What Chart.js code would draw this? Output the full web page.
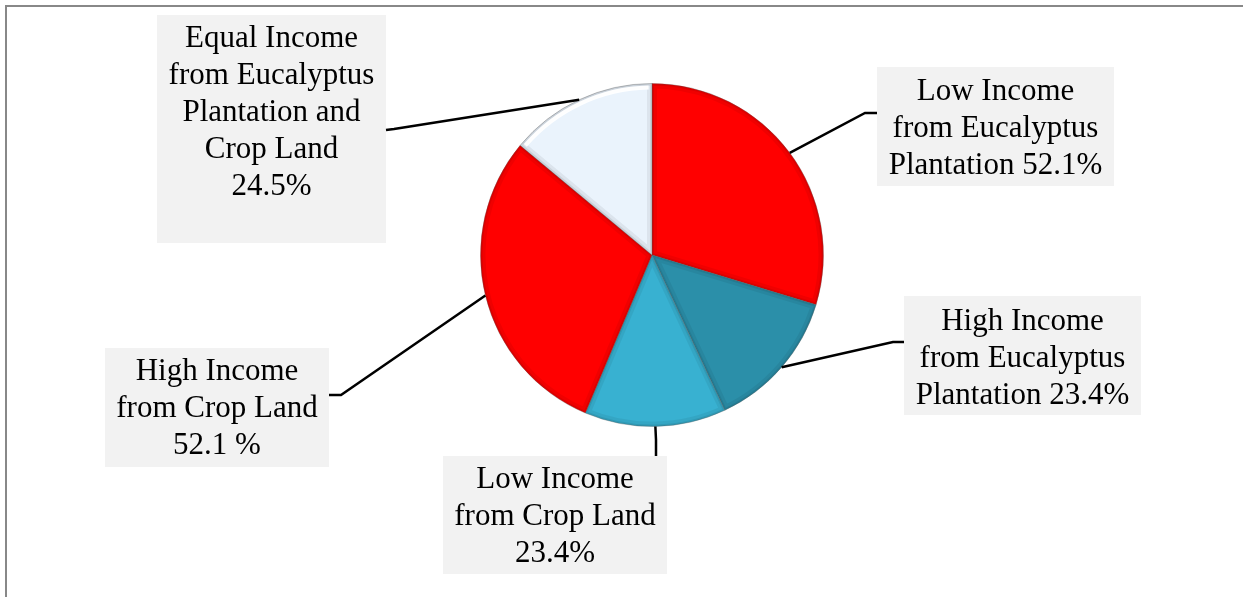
<!DOCTYPE html>
<html>
<head>
<meta charset="utf-8">
<script src="https://cdn.jsdelivr.net/npm/chart.js@4"></script>
<style>
  html, body { margin: 0; padding: 0; background: #fff; overflow: hidden; }
  #wrap { position: relative; width: 1243px; height: 597px; }
  #frame { position: absolute; left: 5px; top: 5px; width: 1400px; height: 700px;
           border-left: 2px solid #888; border-top: 2px solid #888; }
  canvas { position: absolute; left: 0; top: 0; }
</style>
</head>
<body>
<div id="wrap">
  <div id="frame"></div>
  <canvas id="out" width="1243" height="597"></canvas>
</div>
<script>
// income comparison categories, clockwise from 12 o'clock
const categories = [
    "Low Income from Eucalyptus Plantation",
    "High Income from Eucalyptus Plantation",
    "Low Income from Crop Land",
    "High Income from Crop Land",
    "Equal Income from Eucalyptus Plantation and Crop Land"
];
const shares = [52.1, 23.4, 23.4, 52.1, 24.5];
const labelLines = [
    ["Low Income", "from Eucalyptus", "Plantation 52.1%"],
    ["High Income", "from Eucalyptus", "Plantation 23.4%"],
    ["Low Income", "from Crop Land", "23.4%"],
    ["High Income", "from Crop Land", "52.1 %"],
    ["Equal Income", "from Eucalyptus", "Plantation and", "Crop Land", "24.5%"]
];
const sliceColors = ["#ff0000", "#2b8fa9", "#38b1d1", "#ff0000", "#eaf3fc"];

// where each callout box sits and where its leader line bends
const boxes = [
    { x: 877, y: 67, w: 237, h: 119, top: 92, elbow: [865, 113], end: [877, 113] },
    { x: 904, y: 296, w: 237, h: 119, top: 322, elbow: [893, 342], end: [904, 342] },
    { x: 443, y: 456, w: 224, h: 118, top: 480, elbow: [656, 440], end: [656, 456] },
    { x: 105, y: 348, w: 224, h: 119, top: 372, elbow: [341, 395], end: [329, 395] },
    { x: 157, y: 15, w: 229, h: 228, top: 39, elbow: [394, 129], end: [386, 130] }
];

const bevel = {
    id: "bevel",
    afterDatasetDraw(chart) {
        const ctx = chart.ctx;
        const arcs = chart.getDatasetMeta(0).data;
        arcs.forEach((arc, i) => {
            const p = arc.getProps(["x", "y", "startAngle", "endAngle", "outerRadius"], true);
            ctx.save();
            ctx.beginPath();
            ctx.moveTo(p.x, p.y);
            ctx.arc(p.x, p.y, p.outerRadius, p.startAngle, p.endAngle);
            ctx.closePath();
            ctx.clip();
            // soft darker rim on the inside edge
            ctx.lineWidth = 10;
            ctx.strokeStyle = "rgba(0,0,0,0.06)";
            ctx.stroke();
            ctx.lineWidth = 4;
            ctx.strokeStyle = "rgba(0,0,0,0.08)";
            ctx.stroke();
            // white highlight only on the pale slice
            if (i === 4) {
                ctx.beginPath();
                ctx.arc(p.x, p.y, p.outerRadius - 4, p.startAngle + 0.02, p.endAngle - 0.02);
                ctx.lineWidth = 4;
                ctx.strokeStyle = "rgba(255,255,255,0.95)";
                ctx.stroke();
            }
            ctx.restore();
        });
    }
};

const callouts = {
    id: "callouts",
    afterDraw(chart) {
        const ctx = chart.ctx;
        const arcs = chart.getDatasetMeta(0).data;
        ctx.save();
        arcs.forEach((arc, i) => {
            const p = arc.getProps(["x", "y", "startAngle", "endAngle", "outerRadius"], true);
            const mid = (p.startAngle + p.endAngle) / 2;
            const sx = p.x + Math.cos(mid) * p.outerRadius;
            const sy = p.y + Math.sin(mid) * p.outerRadius;
            const b = boxes[i];
            ctx.fillStyle = "#f2f2f2";
            ctx.fillRect(b.x, b.y, b.w, b.h);
            ctx.beginPath();
            ctx.moveTo(sx, sy);
            ctx.lineTo(b.elbow[0], b.elbow[1]);
            ctx.lineTo(b.end[0], b.end[1]);
            ctx.lineWidth = 2.5;
            ctx.strokeStyle = "#000";
            ctx.stroke();
            ctx.fillStyle = "#000";
            ctx.font = "31px 'Liberation Serif', 'Times New Roman', serif";
            ctx.textAlign = "center";
            ctx.textBaseline = "middle";
            labelLines[i].forEach((line, k) => {
                ctx.fillText(line, b.x + b.w / 2, b.top + k * 37);
            });
        });
        ctx.restore();
    }
};

const canvasCtx = document.getElementById("out").getContext("2d");
new Chart(canvasCtx, {
    type: "pie",
    data: {
        labels: categories,
        datasets: [{
            data: shares,
            backgroundColor: sliceColors,
            borderColor: "rgba(90,90,90,0.35)",
            borderWidth: 1
        }]
    },
    options: {
        responsive: false,
        animation: false,
        layout: { padding: { top: 83, bottom: 170, left: 480, right: 419 } },
        plugins: {
            legend: { display: false },
            tooltip: { enabled: false }
        }
    },
    plugins: [bevel, callouts]
});
</script>
</body>
</html>
